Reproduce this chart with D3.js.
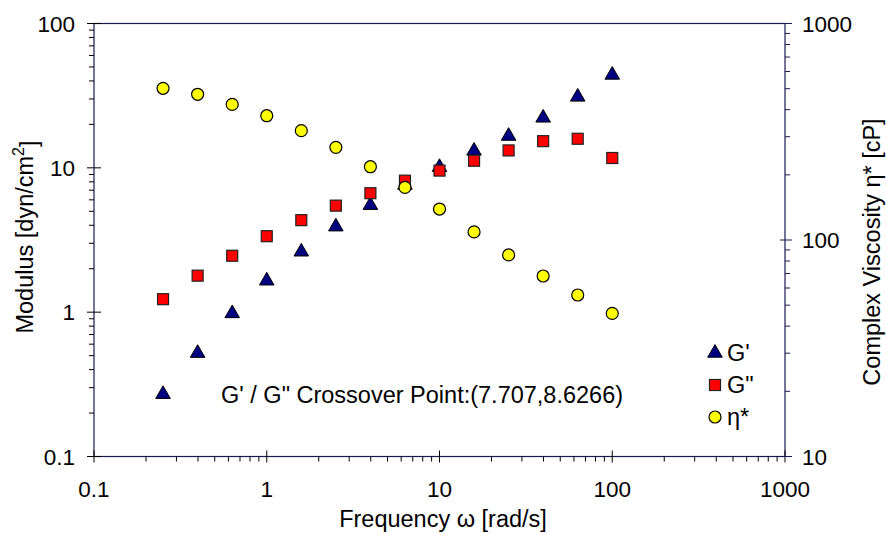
<!DOCTYPE html>
<html>
<head>
<meta charset="utf-8">
<script src="https://cdn.jsdelivr.net/npm/d3@7"></script>
<style>
  body { margin: 0; background: #fff; }
  svg text { font-family: "Liberation Sans", Arial, sans-serif; fill: #000; }
</style>
</head>
<body>
<div id="chart"></div>
<script>
// Data
const freq = [0.251, 0.398, 0.631, 1, 1.585, 2.512, 3.981, 6.31, 10, 15.85, 25.12, 39.81, 63.1, 100];
const gPrime = [0.27, 0.52, 0.98, 1.65, 2.62, 3.91, 5.51, 7.6, 10.1, 13.1, 16.6, 22.2, 31, 44];
const gDouble = [1.23, 1.79, 2.46, 3.36, 4.34, 5.47, 6.67, 8.15, 9.57, 11.2, 13.2, 15.3, 15.9, 11.7];
const etaStar = [502, 471, 423, 375, 320, 268, 218, 175, 139, 109, 85.3, 68.2, 55.7, 45.8];
const xTicks = [0.1, 1, 10, 100, 1000];
const yLeftTicks = [0.1, 1, 10, 100];
const yRightTicks = [10, 100, 1000];
const legendItems = ["G'", 'G"', "η*"];
const crossoverText = "G' / G\" Crossover Point:(7.707,8.6266)";

// Setup
const W = 886, H = 533;
const margin = { top: 23.5, right: 101, bottom: 76.5, left: 94 };
const width = W - margin.left - margin.right;
const height = H - margin.top - margin.bottom;
const frameColor = '#1a1a50';
const tickFont = '22.5px';
const textFont = '23.5px';

const svg = d3.select('#chart').append('svg')
    .attr('width', W).attr('height', H);
const g = svg.append('g').attr('transform', `translate(${margin.left},${margin.top})`);

// Scales
const x = d3.scaleLog().domain([0.1, 1000]).range([0, width]);
const yL = d3.scaleLog().domain([0.1, 100]).range([height, 0]);
const yR = d3.scaleLog().domain([10, 1000]).range([height, 0]);

// minor ticks for a log domain
function minorTicks(domain) {
    const out = [];
    for (let e = Math.log10(domain[0]); e < Math.log10(domain[1]); e++) {
        for (let k = 2; k <= 9; k++) out.push(k * Math.pow(10, e));
    }
    return out;
}

// frame
g.append('rect').attr('width', width).attr('height', height)
    .attr('fill', 'none').attr('stroke', frameColor).attr('stroke-width', 1.2);

// X axis
const xAxis = g.append('g').attr('transform', `translate(0,${height})`);
xAxis.selectAll('.minor').data(minorTicks(x.domain())).enter().append('line')
    .attr('x1', d => x(d)).attr('x2', d => x(d)).attr('y1', 0).attr('y2', 5)
    .attr('stroke', '#000');
xAxis.selectAll('.major').data(xTicks).enter().append('line')
    .attr('x1', d => x(d)).attr('x2', d => x(d)).attr('y1', -6).attr('y2', 6)
    .attr('stroke', '#000');
xAxis.selectAll('text').data(xTicks).enter().append('text')
    .attr('x', d => x(d)).attr('y', 40).attr('text-anchor', 'middle')
    .style('font-size', tickFont).text(d => d3.format('~g')(d));

// Left axis
const lAxis = g.append('g');
lAxis.selectAll('.minor').data(minorTicks(yL.domain())).enter().append('line')
    .attr('x1', -5).attr('x2', 0).attr('y1', d => yL(d)).attr('y2', d => yL(d))
    .attr('stroke', '#000');
lAxis.selectAll('.major').data(yLeftTicks).enter().append('line')
    .attr('x1', -7).attr('x2', 7).attr('y1', d => yL(d)).attr('y2', d => yL(d))
    .attr('stroke', '#000');
lAxis.selectAll('text').data(yLeftTicks).enter().append('text')
    .attr('x', -19).attr('y', d => yL(d)).attr('dy', '0.36em').attr('text-anchor', 'end')
    .style('font-size', tickFont).text(d => d3.format('~g')(d));

// Right axis
const rAxis = g.append('g').attr('transform', `translate(${width},0)`);
rAxis.selectAll('.minor').data(minorTicks(yR.domain())).enter().append('line')
    .attr('x1', 0).attr('x2', 5).attr('y1', d => yR(d)).attr('y2', d => yR(d))
    .attr('stroke', frameColor);
rAxis.selectAll('.major').data(yRightTicks).enter().append('line')
    .attr('x1', -5).attr('x2', 7).attr('y1', d => yR(d)).attr('y2', d => yR(d))
    .attr('stroke', frameColor);
rAxis.selectAll('text').data(yRightTicks).enter().append('text')
    .attr('x', 17).attr('y', d => yR(d)).attr('dy', '0.36em').attr('text-anchor', 'start')
    .style('font-size', tickFont).text(d => d3.format('~g')(d));

// Axis titles
svg.append('text').attr('x', 443).attr('y', 527)
    .attr('text-anchor', 'middle').style('font-size', textFont).text('Frequency ω [rad/s]');

const lt = svg.append('text')
    .attr('transform', `translate(33,237) rotate(-90)`)
    .attr('text-anchor', 'middle').style('font-size', textFont);
lt.append('tspan').text('Modulus [dyn/cm');
lt.append('tspan').attr('dy', '-0.55em').style('font-size', '16px').text('2');
lt.append('tspan').attr('dy', '0.55em').text(']');

svg.append('text')
    .attr('transform', `translate(880,252) rotate(-90)`)
    .attr('text-anchor', 'middle').style('font-size', textFont).text('Complex Viscosity η* [cP]');

// Markers
const tri = d3.symbol().type(d3.symbolTriangle).size(92);
const sq = 11;
const rad = 6;

const points = freq.map((f, i) => ({ f, gp: gPrime[i], gd: gDouble[i], eta: etaStar[i] }));

g.selectAll('.gp').data(points).enter().append('path')
    .attr('d', tri)
    .attr('transform', d => `translate(${x(d.f)},${yL(d.gp)})`)
    .attr('fill', '#000080').attr('stroke', '#000').attr('stroke-width', 1);

g.selectAll('.gd').data(points).enter().append('rect')
    .attr('x', d => x(d.f) - sq / 2).attr('y', d => yL(d.gd) - sq / 2)
    .attr('width', sq).attr('height', sq)
    .attr('fill', '#ff0000').attr('stroke', '#222').attr('stroke-width', 1.2);

g.selectAll('.eta').data(points).enter().append('circle')
    .attr('cx', d => x(d.f)).attr('cy', d => yR(d.eta)).attr('r', rad)
    .attr('fill', '#ffff00').attr('stroke', '#000').attr('stroke-width', 1.2);

// Crossover annotation
svg.append('text').attr('x', 221).attr('y', 403).style('font-size', textFont).text(crossoverText);

// Legend
const legend = svg.append('g').attr('transform', 'translate(715,353)');
legendItems.forEach((name, i) => {
    const row = legend.append('g').attr('transform', `translate(0,${i * 32})`);
    if (i === 0) row.append('path').attr('d', tri).attr('fill', '#000080').attr('stroke', '#000');
    if (i === 1) row.append('rect').attr('x', -sq / 2).attr('y', -sq / 2).attr('width', sq).attr('height', sq)
        .attr('fill', '#ff0000').attr('stroke', '#222').attr('stroke-width', 1.2);
    if (i === 2) row.append('circle').attr('r', rad).attr('fill', '#ffff00').attr('stroke', '#000').attr('stroke-width', 1.2);
    row.append('text').attr('x', 12).attr('dy', '0.36em').style('font-size', textFont).text(name);
});
</script>
</body>
</html>
